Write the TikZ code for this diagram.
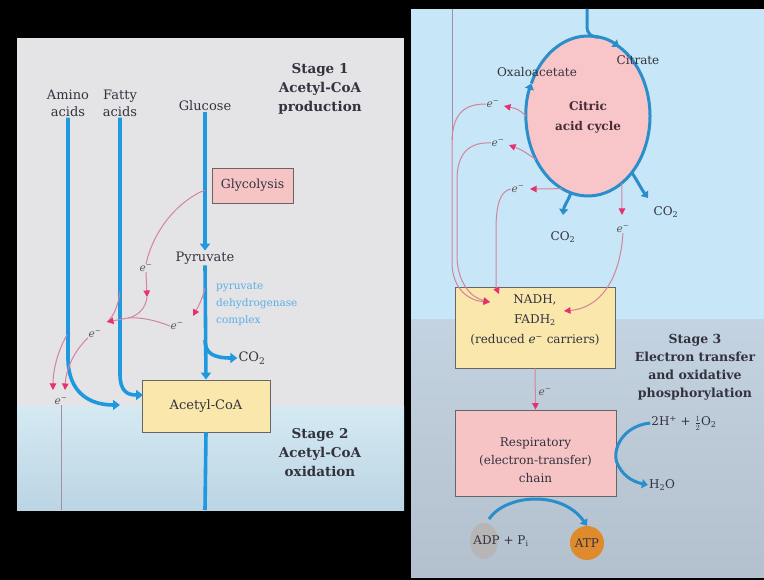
\documentclass[tikz,border=0pt]{standalone}
\usepackage{fontspec}
\setmainfont{DejaVu Serif}
\usetikzlibrary{arrows.meta,shapes.geometric,calc}
\definecolor{lgray}{HTML}{E4E4E6}
\definecolor{lband}{HTML}{D4E9F2}
\definecolor{lband2}{HTML}{BCD5E4}
\definecolor{rtop}{HTML}{C7E6F7}
\definecolor{rlow}{HTML}{C4D3E1}
\definecolor{rlow2}{HTML}{B3C0CD}
\definecolor{flow}{HTML}{1E98DE}
\definecolor{epink}{HTML}{D4839C}
\definecolor{emag}{HTML}{E8306E}
\definecolor{txt}{HTML}{33323F}
\definecolor{pinkbox}{HTML}{F6C4C4}
\definecolor{yelbox}{HTML}{F9E7AC}
\definecolor{cycfill}{HTML}{F8C6C8}
\definecolor{cycline}{HTML}{2A8ECA}
\definecolor{pdh}{HTML}{5AAEE6}
\definecolor{adpc}{HTML}{B6B6B6}
\definecolor{atpc}{HTML}{E08A2E}
\definecolor{thinc}{HTML}{A88E9C}
\begin{document}
\begin{tikzpicture}[x=1pt,y=-1pt,
  flowline/.style={draw=flow, line width=3.6pt, -{Triangle[length=7pt,width=10pt]}},
  flowplain/.style={draw=flow, line width=3.6pt},
  cycflow/.style={draw=cycline, line width=3pt, -{Triangle[length=6pt,width=9pt]}},
  cycplain/.style={draw=cycline, line width=3pt},
  eline/.style={draw=epink, line width=1pt},
  earrow/.style={eline, -{Triangle[length=6.5pt,width=6.5pt,color=emag]}},
  thinline/.style={draw=thinc, line width=0.8pt},
  lbl/.style={text=txt, font=\fontsize{13}{17}\selectfont, inner sep=1pt, align=center},
  lblr/.style={text=txt, font=\fontsize{12}{20}\selectfont, inner sep=1pt, align=center},
  stage/.style={text=txt, font=\bfseries\fontsize{13.5}{19}\selectfont, align=center},
  elabel/.style={text=black!65, font=\fontsize{10.5}{10.5}\selectfont, inner sep=0.5pt},
  boxx/.style={draw=black!60, line width=0.9pt, inner sep=0}
]
\useasboundingbox (0,0) rectangle (764,580);
% backgrounds
\fill[black] (0,0) rectangle (764,580);
\fill[lgray] (17,38) rectangle (404,510);
\shade[top color=lband, bottom color=lband2] (17,407) rectangle (404,510);
\fill[rtop] (411,9) rectangle (764,322);
\shade[top color=rlow, bottom color=rlow2] (411,320) rectangle (764,577);

% ---------- left panel ----------
\node[stage] (st1) at (320,89) {Stage 1\\Acetyl-CoA\\production};
\node[stage] (st2) at (320,453) {Stage 2\\Acetyl-CoA\\oxidation};
\node[lbl] (amino) at (68,103) {Amino\\acids};
\node[lbl] (fatty) at (120,103) {Fatty\\acids};
\node[lbl] (glucose) at (205,106) {Glucose};
\node[boxx, fill=pinkbox, minimum width=81pt, minimum height=35pt, text=txt, font=\fontsize{12.5}{15}\selectfont] (glyc) at (252.5,185.5) {Glycolysis};
\node[lbl] (pyr) at (205,258) {Pyruvate};
\node[anchor=west, text=pdh, font=\fontsize{10.5}{17}\selectfont, align=left, inner sep=0] (pdhc) at (216,304) {pyruvate\\dehydrogenase\\complex};
\node[boxx, fill=yelbox, minimum width=128pt, minimum height=52pt, text=txt, font=\fontsize{13}{15}\selectfont] (acoa) at (206,406) {Acetyl-CoA};
\node[lbl] (co2l) at (252,358) {CO\textsubscript{2}};

\coordinate (ain) at (120,405);
\coordinate (fin) at (143,395);
\coordinate (co2br) at (205,340);
\coordinate (lbot) at (205,510);
\draw[flowline] (amino.south) -- (68,358) .. controls (68,393) and (90,405) .. (ain);
\draw[flowline] (fatty.south) -- (120,374) .. controls (120,391) and (127,395) .. (fin);
\draw[flowline] (glucose.south) -- (pyr.north);
\draw[flowline] (pyr.south) -- (acoa.north);
\draw[flowline] (co2br) .. controls (205,353) and (213,358) .. (co2l.west);
\draw[flowplain] (acoa.south) -- (lbot);

% electrons, left
\coordinate (g1) at (205,190);
\node[elabel] (le1) at (146,268) {\itshape e\textsuperscript{−}};
\coordinate (tip1) at (147,297);
\coordinate (J) at (128,318);
\coordinate (tipJ) at (107,322);
\coordinate (fa) at (120,292);
\coordinate (p1) at (205,288);
\coordinate (p2) at (193,316);
\node[elabel] (le2) at (177,326) {\itshape e\textsuperscript{−}};
\node[elabel] (le3) at (95,334) {\itshape e\textsuperscript{−}};
\coordinate (am) at (67,335);
\coordinate (tipA) at (65,390);
\coordinate (tipB) at (53,390);
\node[elabel] (le4) at (61,401) {\itshape e\textsuperscript{−}};
\coordinate (lthin) at (61,510);
\draw[eline] (g1) .. controls (180,200) and (154,228) .. (le1.north);
\draw[earrow] (le1.south) -- (tip1);
\draw[eline] (tip1) .. controls (146,308) and (138,316) .. (J);
\draw[eline] (le2.west) .. controls (155,320) and (140,317) .. (J);
\draw[eline] (fa) .. controls (118,306) and (114,316) .. (tipJ);
\draw[earrow] (J) -- (tipJ);
\draw[earrow] (p1) .. controls (202,300) and (198,307) .. (p2);
\draw[earrow] (le3.south west) .. controls (75,350) and (66,368) .. (tipA);
\draw[earrow] (am) .. controls (58,350) and (53,370) .. (tipB);
\draw[thinline] (le4.south) -- (lthin);

% ---------- right panel ----------
\node[ellipse, fill=cycfill, minimum width=124pt, minimum height=160pt, inner sep=0] (cyc) at (588,116) {};
\node[text=txt!90!red, font=\bfseries\fontsize{12}{20}\selectfont, align=center] (cyclbl) at (588,117) {Citric\\acid cycle};
\coordinate (rin) at (587,9);
\coordinate (ctop) at ($(cyc.center)+(280:62 and 80)$);
\draw[cycplain] (rin) -- (587,26) .. controls (587,34) and (591,37) .. (ctop);
\draw[cycflow] (cyc.center) ++(100:62 and 80) arc[start angle=100, end angle=204, x radius=62, y radius=80];
\draw[cycflow] (cyc.center) ++(204:62 and 80) arc[start angle=204, end angle=300, x radius=62, y radius=80];
\draw[cycplain] (cyc.center) ++(298:62 and 80) arc[start angle=298, end angle=462, x radius=62, y radius=80];
\node[lblr] (oxa) at (537,72) {Oxaloacetate};
\node[lblr] (citr) at (638,60) {Citrate};
\node[lblr] (co2a) at (563,237) {CO\textsubscript{2}};
\node[lblr] (co2b) at (666,212) {CO\textsubscript{2}};
\coordinate (cb1) at ($(cyc.center)+(106:62 and 80)$);
\coordinate (cb2) at ($(cyc.center)+(45:62 and 80)$);
\coordinate (cb1t) at (563,215);
\coordinate (cb2t) at (648,198);
\draw[cycflow] (cb1) .. controls (568,201) and (564,206) .. (cb1t);
\draw[cycflow] (cb2) .. controls (638,182) and (642,190) .. (cb2t);

% electrons, right
\coordinate (s1) at ($(cyc.center)+(180:62 and 80)$);
\coordinate (s2) at ($(cyc.center)+(147:62 and 80)$);
\coordinate (s3) at ($(cyc.center)+(115:62 and 80)$);
\coordinate (s4) at ($(cyc.center)+(57:62 and 80)$);
\node[elabel] (e1) at (493,104) {\itshape e\textsuperscript{−}};
\node[elabel] (e2) at (498,143) {\itshape e\textsuperscript{−}};
\node[elabel] (e3) at (518,189) {\itshape e\textsuperscript{−}};
\node[elabel] (e4) at (623,229) {\itshape e\textsuperscript{−}};
\coordinate (t1) at (504,106);
\coordinate (t2) at (509,145);
\coordinate (t3) at (530,189);
\coordinate (t4) at (622,215);
\draw[earrow] (s1) .. controls (518,109) .. (t1);
\draw[earrow] (s2) .. controls (522,150) .. (t2);
\draw[earrow] (s3) .. controls (545,189) .. (t3);
\draw[earrow] (s4) .. controls (622,195) .. (t4);

\node[boxx, fill=yelbox, minimum width=160pt, minimum height=81pt] (nadh) at (535,327.5) {};
\node[lblr] (nadht) at (535,320) {NADH,\\FADH\textsubscript{2}\\(reduced \textit{e}\textsuperscript{−} carriers)};
\node[boxx, fill=pinkbox, minimum width=161pt, minimum height=86pt] (resp) at (535.5,453) {};
\node[lblr, font=\fontsize{12}{18}\selectfont] (respt) at (535.5,460) {Respiratory\\(electron-transfer)\\chain};

\coordinate (rt) at (452,9);
\coordinate (n1) at (490,302);
\coordinate (n2) at (499,294);
\coordinate (n3) at (564,311);
\draw[thinline] (rt) -- (452,140);
\draw[earrow] (452,139) -- (452,262) .. controls (452,290) and (470,301) .. (n1);
\draw[eline] (e1.west) .. controls (466,104) and (453,112) .. (452,140);
\draw[earrow] (e2.west) .. controls (470,142) and (457,152) .. (457,180) -- (457,258) .. controls (458,284) and (472,298) .. (n1);
\draw[earrow] (e3.west) .. controls (500,191) and (496,205) .. (496,230) -- (496,278) .. controls (496,287) .. (n2);
\draw[earrow] (e4.south) .. controls (620,280) and (600,308) .. (n3);

\draw[earrow] (nadh.south) -- (resp.north);
\node[elabel] (e5) at (545,392) {\itshape e\textsuperscript{−}};

\node[stage, font=\bfseries\fontsize{12.5}{18}\selectfont] (st3) at (695,367) {Stage 3\\Electron transfer\\and oxidative\\phosphorylation};
\node[lblr] (o2) at (684,423) {2H\textsuperscript{+} + \(\frac{1}{2}\)O\textsubscript{2}};
\node[lblr] (h2o) at (662,485) {H\textsubscript{2}O};
\draw[cycflow] (o2.west) .. controls (622,426) and (612,450) .. (617,463) .. controls (622,474) and (630,481) .. (h2o.west);

\node[ellipse, fill=adpc, minimum width=28pt, minimum height=36pt, inner sep=0] (adp) at (484,541) {};
\node[lblr] (adpt) at (501,541) {ADP + P\textsubscript{i}};
\node[ellipse, fill=atpc, minimum width=30pt, minimum height=34pt, inner sep=0, text=txt, font=\fontsize{12}{14}\selectfont] (atp) at (587,543) {ATP};
\coordinate (adps) at (489,519);
\draw[cycflow] (adps) .. controls (506,494) and (562,490) .. (atp.north);
\end{tikzpicture}
\end{document}
